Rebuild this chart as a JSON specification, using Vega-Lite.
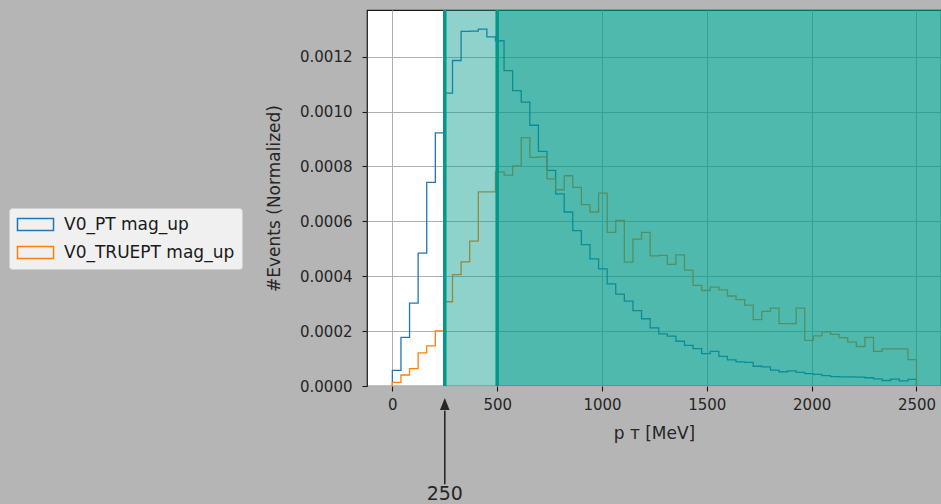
{
  "$schema": "https://vega.github.io/schema/vega-lite/v6.json",
  "autosize": "none",
  "width": 574,
  "height": 376,
  "padding": {"left": 367, "top": 10, "right": 0, "bottom": 118},
  "background": "#b5b5b5",
  "config": {
    "font": "DejaVu Sans",
    "view": {"fill": "white", "stroke": "#1a1a1a", "strokeWidth": 1.2},
    "axis": {
      "domain": false, "grid": true, "gridColor": "#b0b0b0", "gridWidth": 1,
      "tickColor": "#1a1a1a", "tickSize": 5, "tickWidth": 1.1,
      "labelFont": "DejaVu Sans", "labelFontSize": 15, "labelColor": "#262626",
      "titleFont": "DejaVu Sans", "titleFontSize": 17, "titleFontWeight": "normal", "titleColor": "#262626"
    }
  },
  "datasets": {
    "hist": [
      {"s":"V0_PT mag_up","i":0,"pT":0,"ev":0},
      {"s":"V0_PT mag_up","i":1,"pT":0,"ev":0.000057},
      {"s":"V0_PT mag_up","i":2,"pT":40.98,"ev":0.000177},
      {"s":"V0_PT mag_up","i":3,"pT":81.97,"ev":0.000302},
      {"s":"V0_PT mag_up","i":4,"pT":122.95,"ev":0.000484},
      {"s":"V0_PT mag_up","i":5,"pT":163.93,"ev":0.000742},
      {"s":"V0_PT mag_up","i":6,"pT":204.92,"ev":0.000922},
      {"s":"V0_PT mag_up","i":7,"pT":245.9,"ev":0.001067},
      {"s":"V0_PT mag_up","i":8,"pT":286.89,"ev":0.001186},
      {"s":"V0_PT mag_up","i":9,"pT":327.87,"ev":0.001292},
      {"s":"V0_PT mag_up","i":10,"pT":368.85,"ev":0.001293},
      {"s":"V0_PT mag_up","i":11,"pT":409.84,"ev":0.0013},
      {"s":"V0_PT mag_up","i":12,"pT":450.82,"ev":0.001272},
      {"s":"V0_PT mag_up","i":13,"pT":491.8,"ev":0.001258},
      {"s":"V0_PT mag_up","i":14,"pT":532.79,"ev":0.001149},
      {"s":"V0_PT mag_up","i":15,"pT":573.77,"ev":0.001076},
      {"s":"V0_PT mag_up","i":16,"pT":614.75,"ev":0.001034},
      {"s":"V0_PT mag_up","i":17,"pT":655.74,"ev":0.00095},
      {"s":"V0_PT mag_up","i":18,"pT":696.72,"ev":0.000855},
      {"s":"V0_PT mag_up","i":19,"pT":737.7,"ev":0.000786},
      {"s":"V0_PT mag_up","i":20,"pT":778.69,"ev":0.0007},
      {"s":"V0_PT mag_up","i":21,"pT":819.67,"ev":0.000634},
      {"s":"V0_PT mag_up","i":22,"pT":860.66,"ev":0.000566},
      {"s":"V0_PT mag_up","i":23,"pT":901.64,"ev":0.000515},
      {"s":"V0_PT mag_up","i":24,"pT":942.62,"ev":0.000463},
      {"s":"V0_PT mag_up","i":25,"pT":983.61,"ev":0.000427},
      {"s":"V0_PT mag_up","i":26,"pT":1024.59,"ev":0.000372},
      {"s":"V0_PT mag_up","i":27,"pT":1065.57,"ev":0.000335},
      {"s":"V0_PT mag_up","i":28,"pT":1106.56,"ev":0.000309},
      {"s":"V0_PT mag_up","i":29,"pT":1147.54,"ev":0.000275},
      {"s":"V0_PT mag_up","i":30,"pT":1188.52,"ev":0.000245},
      {"s":"V0_PT mag_up","i":31,"pT":1229.51,"ev":0.000212},
      {"s":"V0_PT mag_up","i":32,"pT":1270.49,"ev":0.00019},
      {"s":"V0_PT mag_up","i":33,"pT":1311.48,"ev":0.000182},
      {"s":"V0_PT mag_up","i":34,"pT":1352.46,"ev":0.000163},
      {"s":"V0_PT mag_up","i":35,"pT":1393.44,"ev":0.000148},
      {"s":"V0_PT mag_up","i":36,"pT":1434.43,"ev":0.000136},
      {"s":"V0_PT mag_up","i":37,"pT":1475.41,"ev":0.000118},
      {"s":"V0_PT mag_up","i":38,"pT":1516.39,"ev":0.000126},
      {"s":"V0_PT mag_up","i":39,"pT":1557.38,"ev":0.000108},
      {"s":"V0_PT mag_up","i":40,"pT":1598.36,"ev":0.000095},
      {"s":"V0_PT mag_up","i":41,"pT":1639.34,"ev":0.000088},
      {"s":"V0_PT mag_up","i":42,"pT":1680.33,"ev":0.000086},
      {"s":"V0_PT mag_up","i":43,"pT":1721.31,"ev":0.000072},
      {"s":"V0_PT mag_up","i":44,"pT":1762.3,"ev":0.00007},
      {"s":"V0_PT mag_up","i":45,"pT":1803.28,"ev":0.000058},
      {"s":"V0_PT mag_up","i":46,"pT":1844.26,"ev":0.000052},
      {"s":"V0_PT mag_up","i":47,"pT":1885.25,"ev":0.000055},
      {"s":"V0_PT mag_up","i":48,"pT":1926.23,"ev":0.00005},
      {"s":"V0_PT mag_up","i":49,"pT":1967.21,"ev":0.000045},
      {"s":"V0_PT mag_up","i":50,"pT":2008.2,"ev":0.000042},
      {"s":"V0_PT mag_up","i":51,"pT":2049.18,"ev":0.000038},
      {"s":"V0_PT mag_up","i":52,"pT":2090.16,"ev":0.000034},
      {"s":"V0_PT mag_up","i":53,"pT":2131.15,"ev":0.000033},
      {"s":"V0_PT mag_up","i":54,"pT":2172.13,"ev":0.000033},
      {"s":"V0_PT mag_up","i":55,"pT":2213.11,"ev":0.000032},
      {"s":"V0_PT mag_up","i":56,"pT":2254.1,"ev":0.00003},
      {"s":"V0_PT mag_up","i":57,"pT":2295.08,"ev":0.000026},
      {"s":"V0_PT mag_up","i":58,"pT":2336.07,"ev":0.00002},
      {"s":"V0_PT mag_up","i":59,"pT":2377.05,"ev":0.000025},
      {"s":"V0_PT mag_up","i":60,"pT":2418.03,"ev":0.000019},
      {"s":"V0_PT mag_up","i":61,"pT":2459.02,"ev":0.000024},
      {"s":"V0_PT mag_up","i":62,"pT":2500,"ev":0},
      {"s":"V0_TRUEPT mag_up","i":0,"pT":0,"ev":0},
      {"s":"V0_TRUEPT mag_up","i":1,"pT":0,"ev":0.000013},
      {"s":"V0_TRUEPT mag_up","i":2,"pT":40.98,"ev":0.00004},
      {"s":"V0_TRUEPT mag_up","i":3,"pT":81.97,"ev":0.000063},
      {"s":"V0_TRUEPT mag_up","i":4,"pT":122.95,"ev":0.000121},
      {"s":"V0_TRUEPT mag_up","i":5,"pT":163.93,"ev":0.000146},
      {"s":"V0_TRUEPT mag_up","i":6,"pT":204.92,"ev":0.000201},
      {"s":"V0_TRUEPT mag_up","i":7,"pT":245.9,"ev":0.000307},
      {"s":"V0_TRUEPT mag_up","i":8,"pT":286.89,"ev":0.000406},
      {"s":"V0_TRUEPT mag_up","i":9,"pT":327.87,"ev":0.000452},
      {"s":"V0_TRUEPT mag_up","i":10,"pT":368.85,"ev":0.000528},
      {"s":"V0_TRUEPT mag_up","i":11,"pT":409.84,"ev":0.000707},
      {"s":"V0_TRUEPT mag_up","i":12,"pT":450.82,"ev":0.000707},
      {"s":"V0_TRUEPT mag_up","i":13,"pT":491.8,"ev":0.00078},
      {"s":"V0_TRUEPT mag_up","i":14,"pT":532.79,"ev":0.000768},
      {"s":"V0_TRUEPT mag_up","i":15,"pT":573.77,"ev":0.000802},
      {"s":"V0_TRUEPT mag_up","i":16,"pT":614.75,"ev":0.000905},
      {"s":"V0_TRUEPT mag_up","i":17,"pT":655.74,"ev":0.000833},
      {"s":"V0_TRUEPT mag_up","i":18,"pT":696.72,"ev":0.000835},
      {"s":"V0_TRUEPT mag_up","i":19,"pT":737.7,"ev":0.000755},
      {"s":"V0_TRUEPT mag_up","i":20,"pT":778.69,"ev":0.000715},
      {"s":"V0_TRUEPT mag_up","i":21,"pT":819.67,"ev":0.000766},
      {"s":"V0_TRUEPT mag_up","i":22,"pT":860.66,"ev":0.000724},
      {"s":"V0_TRUEPT mag_up","i":23,"pT":901.64,"ev":0.000661},
      {"s":"V0_TRUEPT mag_up","i":24,"pT":942.62,"ev":0.000634},
      {"s":"V0_TRUEPT mag_up","i":25,"pT":983.61,"ev":0.000703},
      {"s":"V0_TRUEPT mag_up","i":26,"pT":1024.59,"ev":0.00056},
      {"s":"V0_TRUEPT mag_up","i":27,"pT":1065.57,"ev":0.000603},
      {"s":"V0_TRUEPT mag_up","i":28,"pT":1106.56,"ev":0.000451},
      {"s":"V0_TRUEPT mag_up","i":29,"pT":1147.54,"ev":0.000535},
      {"s":"V0_TRUEPT mag_up","i":30,"pT":1188.52,"ev":0.00056},
      {"s":"V0_TRUEPT mag_up","i":31,"pT":1229.51,"ev":0.000474},
      {"s":"V0_TRUEPT mag_up","i":32,"pT":1270.49,"ev":0.000476},
      {"s":"V0_TRUEPT mag_up","i":33,"pT":1311.48,"ev":0.000443},
      {"s":"V0_TRUEPT mag_up","i":34,"pT":1352.46,"ev":0.000478},
      {"s":"V0_TRUEPT mag_up","i":35,"pT":1393.44,"ev":0.000422},
      {"s":"V0_TRUEPT mag_up","i":36,"pT":1434.43,"ev":0.000367},
      {"s":"V0_TRUEPT mag_up","i":37,"pT":1475.41,"ev":0.000348},
      {"s":"V0_TRUEPT mag_up","i":38,"pT":1516.39,"ev":0.00036},
      {"s":"V0_TRUEPT mag_up","i":39,"pT":1557.38,"ev":0.00035},
      {"s":"V0_TRUEPT mag_up","i":40,"pT":1598.36,"ev":0.000328},
      {"s":"V0_TRUEPT mag_up","i":41,"pT":1639.34,"ev":0.000315},
      {"s":"V0_TRUEPT mag_up","i":42,"pT":1680.33,"ev":0.000295},
      {"s":"V0_TRUEPT mag_up","i":43,"pT":1721.31,"ev":0.000242},
      {"s":"V0_TRUEPT mag_up","i":44,"pT":1762.3,"ev":0.000272},
      {"s":"V0_TRUEPT mag_up","i":45,"pT":1803.28,"ev":0.000284},
      {"s":"V0_TRUEPT mag_up","i":46,"pT":1844.26,"ev":0.000227},
      {"s":"V0_TRUEPT mag_up","i":47,"pT":1885.25,"ev":0.000227},
      {"s":"V0_TRUEPT mag_up","i":48,"pT":1926.23,"ev":0.000284},
      {"s":"V0_TRUEPT mag_up","i":49,"pT":1967.21,"ev":0.000166},
      {"s":"V0_TRUEPT mag_up","i":50,"pT":2008.2,"ev":0.000183},
      {"s":"V0_TRUEPT mag_up","i":51,"pT":2049.18,"ev":0.000197},
      {"s":"V0_TRUEPT mag_up","i":52,"pT":2090.16,"ev":0.000188},
      {"s":"V0_TRUEPT mag_up","i":53,"pT":2131.15,"ev":0.000176},
      {"s":"V0_TRUEPT mag_up","i":54,"pT":2172.13,"ev":0.00016},
      {"s":"V0_TRUEPT mag_up","i":55,"pT":2213.11,"ev":0.000144},
      {"s":"V0_TRUEPT mag_up","i":56,"pT":2254.1,"ev":0.000177},
      {"s":"V0_TRUEPT mag_up","i":57,"pT":2295.08,"ev":0.000126},
      {"s":"V0_TRUEPT mag_up","i":58,"pT":2336.07,"ev":0.000135},
      {"s":"V0_TRUEPT mag_up","i":59,"pT":2377.05,"ev":0.000135},
      {"s":"V0_TRUEPT mag_up","i":60,"pT":2418.03,"ev":0.000135},
      {"s":"V0_TRUEPT mag_up","i":61,"pT":2459.02,"ev":0.000096},
      {"s":"V0_TRUEPT mag_up","i":62,"pT":2500,"ev":0}
    ],
    "cuts": [{"pT": 250}, {"pT": 500}],
    "ann": [{"pT": 250, "label": "250"}]
  },
  "layer": [
    {
      "data": {"name": "hist"},
      "mark": {"type": "line", "interpolate": "step-after", "strokeWidth": 1.3, "clip": true},
      "encoding": {
        "x": {"field": "pT", "type": "quantitative", "title": "p ᴛ [MeV]",
          "scale": {"domain": [-121, 2617], "nice": false, "zero": false},
          "axis": {"values": [0, 500, 1000, 1500, 2000, 2500], "format": "d", "labelPadding": 6, "titlePadding": 13, "labelFlush": false}},
        "y": {"field": "ev", "type": "quantitative", "title": "#Events (Normalized)",
          "scale": {"domain": [0, 0.00137], "nice": false, "zero": false},
          "axis": {"values": [0, 0.0002, 0.0004, 0.0006, 0.0008, 0.001, 0.0012], "format": ".4f", "labelPadding": 10, "titlePadding": 16}},
        "color": {"field": "s", "type": "nominal",
          "scale": {"domain": ["V0_PT mag_up", "V0_TRUEPT mag_up"], "range": ["#1f77b4", "#ff7f0e"]},
          "legend": {"title": null, "orient": "none", "legendX": -358, "legendY": 198,
            "symbolType": "M-2.12,-0.71H2.12V0.71H-2.12Z", "symbolSize": 289, "symbolStrokeWidth": 1.5,
            "symbolFillColor": "transparent", "symbolOffset": 10, "labelFontSize": 17, "labelColor": "#1a1a1a",
            "labelFont": "DejaVu Sans", "labelOffset": 19, "rowPadding": 9, "padding": 7,
            "fillColor": "#f0f0f0", "strokeColor": "#d0d0d0", "cornerRadius": 3, "labelLimit": 300}},
        "order": {"field": "i", "type": "quantitative"}
      }
    },
    {
      "data": {"name": "cuts"},
      "mark": {"type": "rect", "color": "#009988", "opacity": 0.44, "clip": true},
      "encoding": {
        "x": {"field": "pT", "type": "quantitative", "title": "p ᴛ [MeV]"},
        "x2": {"datum": 2800}
      }
    },
    {
      "data": {"name": "cuts"},
      "mark": {"type": "rule", "color": "#009988", "strokeWidth": 3.5},
      "encoding": {
        "x": {"field": "pT", "type": "quantitative", "title": "p ᴛ [MeV]"}
      }
    },
    {
      "data": {"name": "ann"},
      "mark": {"type": "rule", "color": "#262626", "strokeWidth": 1.6, "clip": false},
      "encoding": {
        "x": {"field": "pT", "type": "quantitative", "title": "p ᴛ [MeV]"},
        "y": {"datum": -0.00009},
        "y2": {"datum": -0.000358}
      }
    },
    {
      "data": {"name": "ann"},
      "mark": {"type": "point", "shape": "M0,-1L0.4,0L-0.4,0Z", "size": 576, "filled": true, "color": "#262626", "opacity": 1, "strokeWidth": 0, "clip": false},
      "encoding": {
        "x": {"field": "pT", "type": "quantitative", "title": "p ᴛ [MeV]"},
        "y": {"datum": -0.0000874}
      }
    },
    {
      "data": {"name": "ann"},
      "mark": {"type": "text", "fontSize": 19, "font": "DejaVu Sans", "align": "center", "baseline": "alphabetic", "color": "#262626", "clip": false},
      "encoding": {
        "x": {"field": "pT", "type": "quantitative", "title": "p ᴛ [MeV]"},
        "y": {"datum": -0.0004165},
        "text": {"field": "label"}
      }
    }
  ]
}
